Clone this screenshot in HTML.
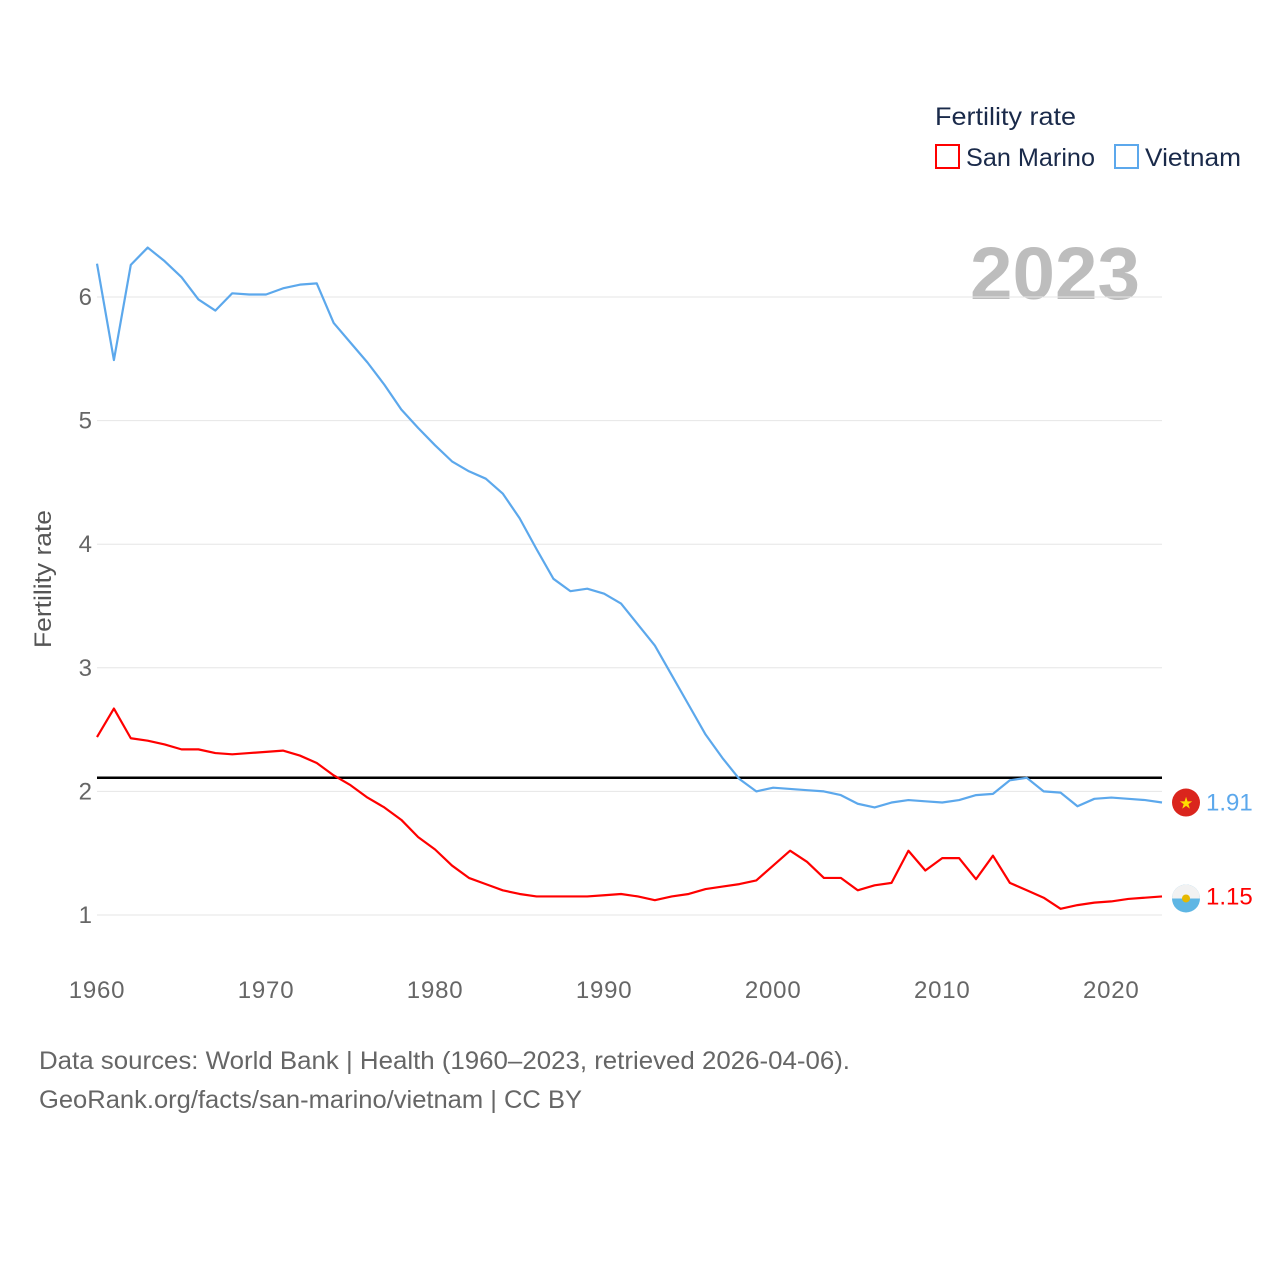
<!DOCTYPE html>
<html><head><meta charset="utf-8"><style>
html,body{margin:0;padding:0;background:#fff;}
body{width:1280px;height:1280px;overflow:hidden;font-family:"Liberation Sans",sans-serif;}
</style></head><body>
<svg id="chart" width="1280" height="1280" xmlns="http://www.w3.org/2000/svg" font-family="Liberation Sans, sans-serif">
<text x="1140" y="299" text-anchor="end" font-size="74" font-weight="bold" fill="#bdbdbd" textLength="170" lengthAdjust="spacingAndGlyphs">2023</text>
<g id="grid"></g>
<g id="xt"></g>
<text transform="translate(51,579) rotate(-90)" text-anchor="middle" font-size="24" fill="#555" textLength="138" lengthAdjust="spacingAndGlyphs">Fertility rate</text>
<g id="series"></g>
<g>
<text x="935" y="125" font-size="25" fill="#1a2a4a" textLength="141" lengthAdjust="spacingAndGlyphs">Fertility rate</text>
<rect x="936" y="145" width="23" height="23" fill="none" stroke="#ff0000" stroke-width="2"/>
<text x="966" y="166" font-size="25" fill="#1a2a4a" textLength="129" lengthAdjust="spacingAndGlyphs">San Marino</text>
<rect x="1115" y="145" width="23" height="23" fill="none" stroke="#5ca8ec" stroke-width="2"/>
<text x="1145" y="166" font-size="25" fill="#1a2a4a" textLength="96" lengthAdjust="spacingAndGlyphs">Vietnam</text>
</g>
<text x="39" y="1069" font-size="25" fill="#666" textLength="811" lengthAdjust="spacingAndGlyphs">Data sources: World Bank | Health (1960–2023, retrieved 2026-04-06).</text>
<text x="39" y="1108" font-size="25" fill="#666" textLength="543" lengthAdjust="spacingAndGlyphs">GeoRank.org/facts/san-marino/vietnam | CC BY</text>
</svg>
<script>
const years=[];for(let y=1960;y<=2023;y++)years.push(y);
const vietnam=[6.27,5.49,6.26,6.40,6.29,6.16,5.98,5.89,6.03,6.02,6.02,6.07,6.10,6.11,5.79,5.63,5.47,5.29,5.09,4.94,4.80,4.67,4.59,4.53,4.41,4.21,3.96,3.72,3.62,3.64,3.60,3.52,3.35,3.18,2.94,2.70,2.46,2.27,2.10,2.00,2.03,2.02,2.01,2.00,1.97,1.90,1.87,1.91,1.93,1.92,1.91,1.93,1.97,1.98,2.09,2.11,2.00,1.99,1.88,1.94,1.95,1.94,1.93,1.91];
const sanMarino=[2.44,2.67,2.43,2.41,2.38,2.34,2.34,2.31,2.30,2.31,2.32,2.33,2.29,2.23,2.13,2.05,1.95,1.87,1.77,1.63,1.53,1.40,1.30,1.25,1.20,1.17,1.15,1.15,1.15,1.15,1.16,1.17,1.15,1.12,1.15,1.17,1.21,1.23,1.25,1.28,1.40,1.52,1.43,1.30,1.30,1.20,1.24,1.26,1.52,1.36,1.46,1.46,1.29,1.48,1.26,1.20,1.14,1.05,1.08,1.10,1.11,1.13,1.14,1.15];
const yTicks=[1,2,3,4,5,6];
const xTicks=[1960,1970,1980,1990,2000,2010,2020];
const replacement=2.11;
const NS="http://www.w3.org/2000/svg";
const X=y=>97+(y-1960)*(1162-97)/63;
const Y=v=>915-(v-1)*123.6;
function mk(tag,attrs,parent,text){const e=document.createElementNS(NS,tag);for(const k in attrs)e.setAttribute(k,attrs[k]);if(text!==undefined)e.textContent=text;parent.appendChild(e);return e;}
const grid=document.getElementById('grid'),xt=document.getElementById('xt'),ser=document.getElementById('series');
yTicks.forEach(t=>{
 const l=mk('line',{x1:97,x2:1162,y1:Y(t),y2:Y(t),stroke:'#e6e6e6','stroke-width':1},grid);
 
 
 const tx=mk('text',{x:92,y:Y(t)+8,'text-anchor':'end','font-size':24,fill:'#666'},grid,String(t));
 
 
});
xTicks.forEach(t=>{
 const tx=mk('text',{x:X(t),y:998,'text-anchor':'middle','font-size':24,fill:'#666','letter-spacing':'0.8'},xt,String(t));
 
 
});
const rl=mk('line',{x1:97,x2:1162,y1:Y(replacement),y2:Y(replacement),stroke:'#000','stroke-width':2.5},ser);


function line(data,color,name){
 const p=mk('polyline',{points:data.map((v,i)=>X(years[i])+','+Y(v)).join(' '),fill:'none',stroke:color,'stroke-width':2.2,'stroke-linejoin':'round'},ser);
 
 
}
line(vietnam,'#5ca8ec','vietnam-line');
line(sanMarino,'#ff0000','san-marino-line');
const lv=vietnam[vietnam.length-1],ls=sanMarino[sanMarino.length-1];
const f1=mk('circle',{cx:1186,cy:Y(lv),r:14,fill:'#da251d'},ser);


const st=mk('text',{x:1186,y:Y(lv)+6,'text-anchor':'middle','font-size':16,fill:'#ffde00'},ser,'★');


const f2=mk('circle',{cx:1186,cy:Y(ls)+2,r:14,fill:'#5eb6e4'},ser);


const f2t=mk('path',{d:`M1172 ${Y(ls)+2} a14 14 0 0 1 28 0 z`,fill:'#f2f2f2'},ser);


const em=mk('circle',{cx:1186,cy:Y(ls)+2,r:4,fill:'#e6b800'},ser);


const vl=mk('text',{x:1206,y:Y(lv)+8,'font-size':24,fill:'#5ca8ec'},ser,lv.toFixed(2));


const sl=mk('text',{x:1206,y:Y(ls)+8,'font-size':24,fill:'#ff0000'},ser,ls.toFixed(2));


</script>
</body></html>
